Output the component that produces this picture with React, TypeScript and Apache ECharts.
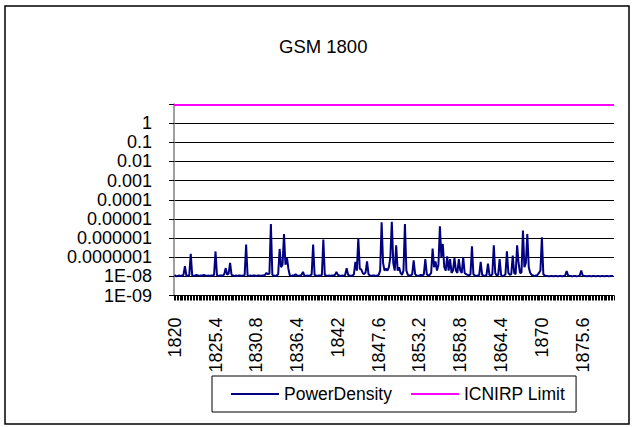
import React, { useEffect, useRef } from "react";
import * as echarts from "echarts";

const titleText = "GSM 1800";
const seriesNames = ["PowerDensity", "ICNIRP Limit"];
const xTickLabels = ["1820", "1825.4", "1830.8", "1836.4", "1842", "1847.6", "1853.2", "1858.8", "1864.4", "1870", "1875.6"];
const xLabelEvery = 28;
// labels for exponents -9 .. 0
const yTickLabels = ["1E-09", "1E-08", "0.0000001", "0.000001", "0.00001", "0.0001", "0.001", "0.01", "0.1", "1"];
const icnirpLimit = 9;

const powerDensity = [
  1.2e-8, 1.0e-8, 1.05e-8, 1.1e-8, 1.05e-8, 1.1e-8, 1.2e-8, 3.4e-8, 1.1e-8, 1.05e-8,
  1.2e-8, 1.5e-7, 1.1e-8, 1.05e-8, 1.1e-8, 1.2e-8, 1.1e-8, 1.05e-8, 1.1e-8, 1.1e-8,
  1.2e-8, 1.1e-8, 1.05e-8, 1.1e-8, 1.05e-8, 1.1e-8, 1.1e-8, 1.2e-8, 2.0e-7, 1.1e-8,
  1.05e-8, 1.1e-8, 1.1e-8, 1.05e-8, 1.3e-8, 2.7e-8, 1.2e-8, 1.4e-8, 5.0e-8, 1.2e-8,
  1.1e-8, 1.05e-8, 1.1e-8, 1.05e-8, 1.1e-8, 1.1e-8, 1.05e-8, 1.1e-8, 1.2e-8, 4.6e-7,
  1.1e-8, 1.05e-8, 1.1e-8, 1.05e-8, 1.1e-8, 1.1e-8, 1.05e-8, 1.1e-8, 1.1e-8, 1.05e-8,
  1.1e-8, 1.1e-8, 1.2e-8, 1.5e-8, 1.3e-8, 1.4e-8, 5.4e-6, 1.2e-8, 1.1e-8, 1.05e-8,
  1.1e-8, 1.3e-8, 2.7e-7, 3.0e-8, 4.0e-8, 1.6e-6, 4.0e-8, 1.0e-7, 2.5e-8, 1.1e-8,
  1.05e-8, 1.1e-8, 1.1e-8, 1.3e-8, 1.1e-8, 1.05e-8, 1.1e-8, 1.2e-8, 1.7e-8, 1.1e-8,
  1.05e-8, 1.1e-8, 1.05e-8, 1.1e-8, 1.3e-8, 4.6e-7, 1.2e-8, 1.1e-8, 1.05e-8, 1.1e-8,
  1.1e-8, 1.2e-8, 8.3e-7, 1.2e-8, 1.1e-8, 1.05e-8, 1.1e-8, 1.05e-8, 1.1e-8, 1.1e-8,
  1.2e-8, 1.7e-8, 1.2e-8, 1.1e-8, 1.05e-8, 1.1e-8, 1.05e-8, 1.2e-8, 2.7e-8, 1.2e-8,
  1.1e-8, 1.05e-8, 1.1e-8, 1.3e-8, 5.7e-8, 2.0e-8, 1.0e-6, 2.5e-8, 2.3e-8, 1.5e-8,
  1.3e-8, 1.6e-8, 6.0e-8, 1.3e-8, 1.1e-8, 1.05e-8, 1.1e-8, 1.1e-8, 1.05e-8, 1.1e-8,
  1.2e-8, 2.0e-8, 6.6e-6, 5.0e-8, 2.0e-8, 2.5e-8, 2.0e-8, 3.0e-8, 1.0e-7, 7.0e-6,
  5.0e-8, 2.0e-8, 4.2e-7, 2.0e-8, 3.0e-8, 1.5e-8, 1.2e-8, 2.0e-8, 5.4e-6, 2.0e-8,
  1.2e-8, 1.1e-8, 1.1e-8, 1.3e-8, 6.9e-8, 1.3e-8, 1.1e-8, 1.05e-8, 1.1e-8, 1.2e-8,
  1.1e-8, 1.3e-8, 7.9e-8, 1.3e-8, 1.1e-8, 1.2e-8, 1.5e-8, 2.8e-7, 3.0e-8, 6.0e-8,
  2.0e-8, 4.0e-8, 4.1e-6, 1.0e-7, 4.9e-7, 3.0e-8, 2.0e-8, 1.1e-7, 2.0e-8, 8.0e-8,
  1.5e-8, 2.0e-8, 9.0e-8, 2.0e-8, 1.5e-8, 8.0e-8, 2.0e-8, 1.5e-8, 1.0e-7, 1.5e-8,
  1.3e-8, 1.2e-8, 1.1e-8, 1.3e-8, 3.7e-7, 1.3e-8, 1.1e-8, 1.05e-8, 1.1e-8, 1.2e-8,
  5.7e-8, 1.2e-8, 1.1e-8, 1.05e-8, 1.2e-8, 4.6e-8, 1.2e-8, 1.1e-8, 1.3e-8, 4.2e-7,
  1.5e-8, 1.1e-8, 1.2e-8, 8.0e-8, 1.2e-8, 1.0e-8, 1.1e-8, 1.3e-8, 2.0e-7, 1.5e-8,
  1.2e-8, 1.3e-8, 1.2e-7, 1.5e-8, 1.3e-8, 4.2e-7, 5.0e-8, 1.5e-8, 1.6e-8, 2.5e-6,
  3.0e-8, 5.0e-8, 1.6e-6, 3.0e-8, 1.5e-8, 1.2e-8, 1.1e-8, 1.05e-8, 1.1e-8, 1.2e-8,
  1.5e-8, 2.0e-8, 1.1e-6, 1.3e-8, 1.1e-8, 1.05e-8, 1.05e-8, 1.0e-8, 1.05e-8, 1.05e-8,
  1.0e-8, 1.05e-8, 1.05e-8, 1.0e-8, 1.05e-8, 1.05e-8, 1.0e-8, 1.05e-8, 1.1e-8, 1.9e-8,
  1.1e-8, 1.05e-8, 1.05e-8, 1.0e-8, 1.05e-8, 1.05e-8, 1.0e-8, 1.05e-8, 1.1e-8, 2.0e-8,
  1.1e-8, 1.05e-8, 1.05e-8, 1.0e-8, 1.05e-8, 1.05e-8, 1.0e-8, 1.05e-8, 1.05e-8, 1.0e-8,
  1.05e-8, 1.05e-8, 1.0e-8, 1.05e-8, 1.05e-8, 1.0e-8, 1.05e-8, 1.05e-8, 1.0e-8, 1.05e-8,
  1.05e-8, 1.05e-8,
];

const categories = powerDensity.map((_, i) => String(i));

const FONT = "'Liberation Sans', Arial, sans-serif";

export default function App() {
  const ref = useRef<HTMLDivElement>(null);
  useEffect(() => {
    if (!ref.current) return;
    const chart = echarts.init(ref.current, undefined, { renderer: "svg" });
    chart.setOption({
      animation: false,
      backgroundColor: "#fff",
      textStyle: { fontFamily: FONT },
      title: {
        text: titleText,
        left: 279,
        top: 37,
        padding: 0,
        textStyle: { fontSize: 18.5, fontWeight: "normal", color: "#000", fontFamily: FONT },
      },
      graphic: [
        {
          type: "rect",
          silent: true,
          z: -10,
          shape: { x: 5, y: 6, width: 624, height: 418 },
          style: { fill: "none", stroke: "#000", lineWidth: 1.5 },
        },
      ],
      legend: {
        left: 212,
        top: 376,
        orient: "horizontal",
        padding: [9, 11, 9, 19],
        itemGap: 19,
        itemWidth: 48,
        itemHeight: 2,
        itemTextGap: 5,
        borderColor: "#000",
        borderWidth: 1,
        textStyle: { fontSize: 17.5, color: "#000", fontFamily: FONT },
        data: [
          { name: seriesNames[0], icon: "rect" },
          { name: seriesNames[1], icon: "rect" },
        ],
      },
      grid: { left: 174, right: 20, top: 104, bottom: 131.5, containLabel: false },
      xAxis: {
        type: "category",
        data: categories,
        boundaryGap: true,
        axisLine: { show: true, lineStyle: { color: "#000", width: 1 } },
        axisTick: { show: true, interval: 0, length: 5, lineStyle: { color: "#000", width: 1 } },
        axisLabel: {
          interval: xLabelEvery - 1,
          rotate: 90,
          margin: 22,
          fontSize: 18,
          color: "#000",
          fontFamily: FONT,
          formatter: (_v: string, idx: number) =>
            idx % xLabelEvery === 0 ? xTickLabels[idx / xLabelEvery] ?? "" : "",
        },
        splitLine: { show: false },
      },
      yAxis: {
        type: "log",
        logBase: 10,
        min: 1e-9,
        max: 10,
        splitNumber: 10,
        axisLine: { show: true, lineStyle: { color: "#808080", width: 1.5 } },
        axisTick: { show: true, length: 5, lineStyle: { color: "#000", width: 1 } },
        axisLabel: {
          margin: 22,
          fontSize: 18,
          color: "#000",
          fontFamily: FONT,
          formatter: (v: number) => {
            const e = Math.round(Math.log10(v));
            return yTickLabels[e + 9] ?? "";
          },
        },
        splitLine: { show: true, lineStyle: { color: "#000", width: 1 } },
      },
      series: [
        {
          name: seriesNames[0],
          type: "line",
          data: powerDensity,
          symbol: "none",
          color: "#000080",
          itemStyle: { color: "#000080" },
          lineStyle: { color: "#000080", width: 2 },
          z: 3,
        },
        {
          name: seriesNames[1],
          type: "line",
          data: [],
          symbol: "none",
          color: "#FF00FF",
          itemStyle: { color: "#FF00FF" },
          lineStyle: { color: "#FF00FF", width: 2 },
          markLine: {
            silent: true,
            symbol: ["none", "none"],
            label: { show: false },
            lineStyle: { color: "#FF00FF", width: 2, type: "solid" },
            data: [{ yAxis: icnirpLimit }],
          },
          z: 4,
        },
      ],
    });
    return () => chart.dispose();
  }, []);
  return (
    <div
      ref={ref}
      style={{ position: "absolute", left: 0, top: 0, width: 634, height: 427, background: "#fff" }}
    />
  );
}
